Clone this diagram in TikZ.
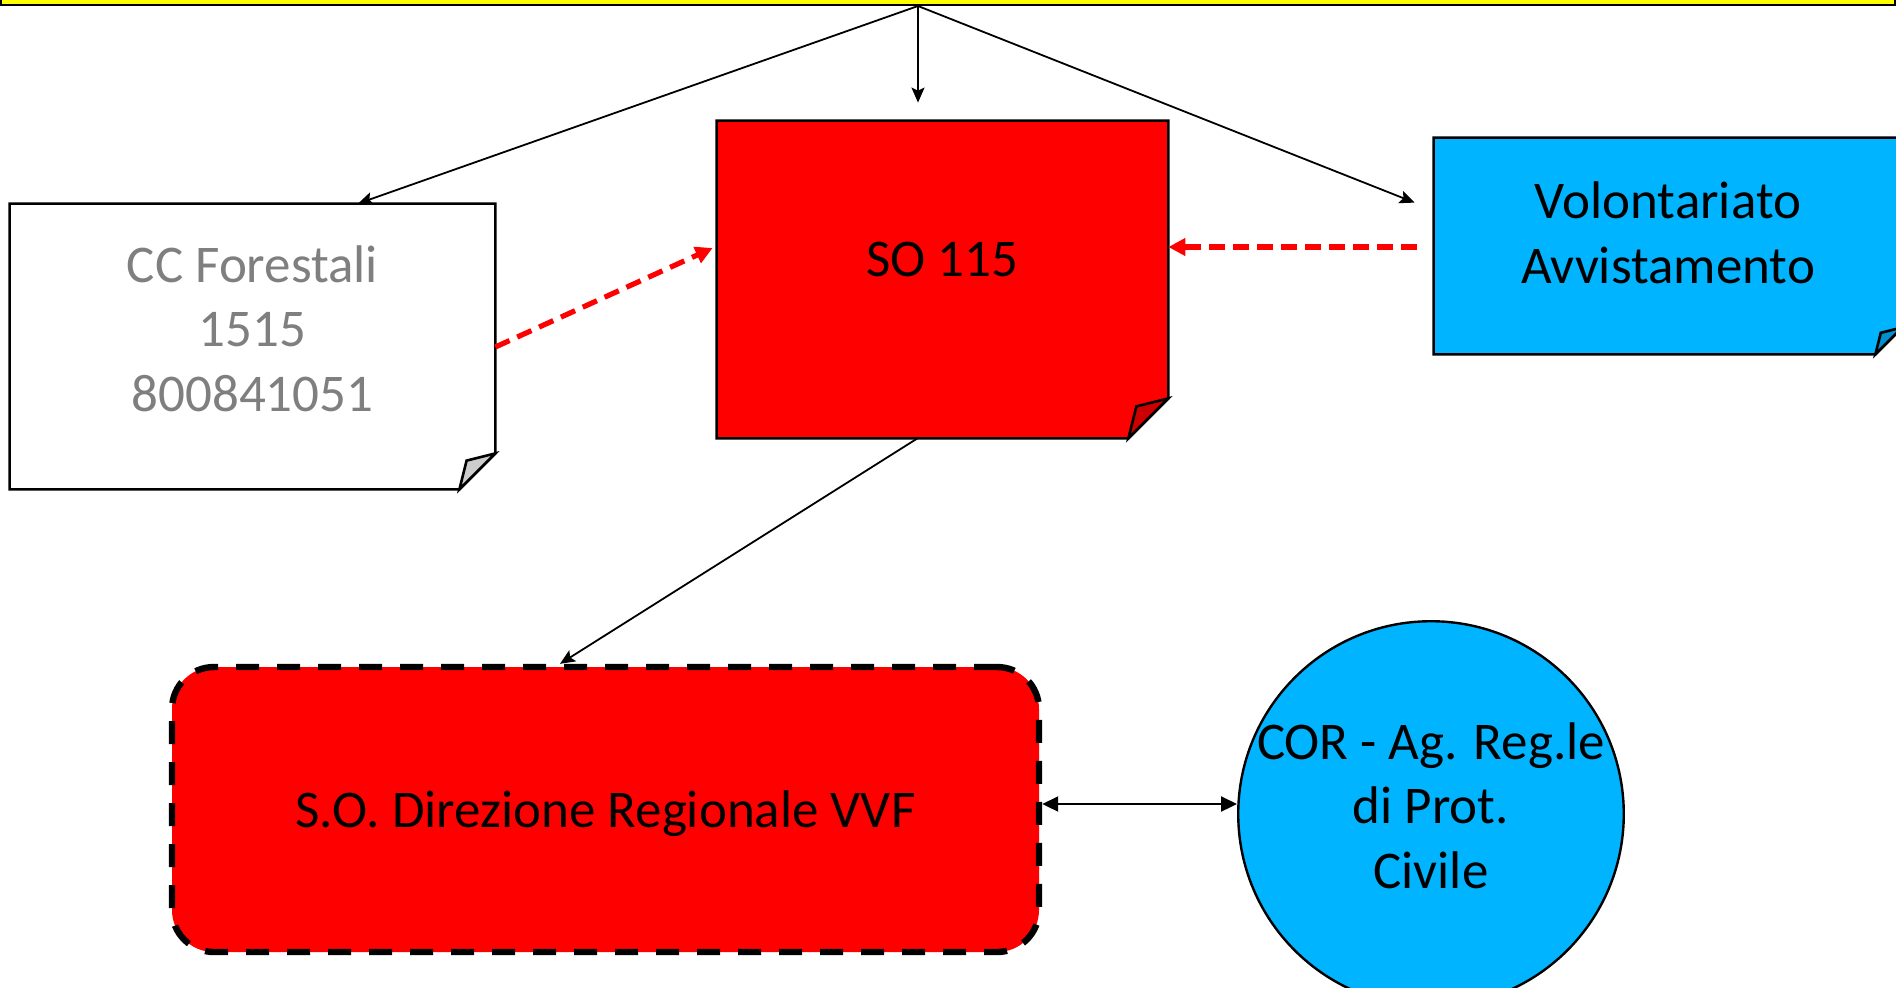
\documentclass[tikz,border=0pt]{standalone}
\usepackage{fontspec}
\setmainfont{Carlito}
\usetikzlibrary{arrows.meta,calc,backgrounds}

\definecolor{vvfred}{RGB}{255,0,0}
\definecolor{vvfredflap}{RGB}{204,0,0}
\definecolor{volblue}{RGB}{0,180,255}
\definecolor{volblueflap}{RGB}{0,144,204}
\definecolor{ccgray}{RGB}{127,127,127}
\definecolor{ccflap}{RGB}{204,204,204}
\definecolor{topyellow}{RGB}{255,255,0}

% note box with folded corner: node name, fold size, fill, flap fill
\newcommand{\dogear}[4]{%
  \begin{pgfonlayer}{background}
    \filldraw[fill=#3, line width=1.3pt, line join=miter]
      (#1.north west) -- (#1.north east) -- (#1.south east)
      -- ($(#1.south east)+(-#2,#2)$) -- ($(#1.south west)+(0,#2)$) -- cycle;
  \end{pgfonlayer}
  \filldraw[fill=#4, line width=1.3pt, line join=miter]
    (#1.south east) -- ($(#1.south east)+(-#2,#2)$)
    -- ($(#1.south east)+(-0.8*#2,0.2*#2)$) -- cycle;
}

\begin{document}
\begin{tikzpicture}[
  x=0.5pt, y=-0.5pt,
  every node/.style = {font=\fontsize{26.5}{32.3}\selectfont, align=center, inner sep=0pt},
  notebox/.style = {rectangle, draw=none},
  link/.style = {-{Stealth[length=7.5pt,width=6.5pt,inset=1.5pt]}, line width=0.9pt},
  alarm/.style = {-{Triangle[length=8.5pt,width=8.5pt]}, line width=2.6pt, vvfred,
                  dash pattern=on 7.8pt off 4.2pt},
  biway/.style = {{Triangle[length=8pt,width=7.5pt]}-{Triangle[length=8pt,width=7.5pt]}, line width=1pt}
]
  \useasboundingbox (0,0) rectangle (1896,987);
  \clip (0,0) rectangle (1896,987);

  % top box (only its lower edge shows)
  \filldraw[fill=topyellow, line width=1.2pt] (1,-20) rectangle (1895,5);
  \coordinate (apex) at (918,6);

  % note boxes
  \node[notebox, minimum width=242.5pt, minimum height=124.5pt, text=ccgray]
    (cc) at (252.5,328.5) {CC Forestali\\1515\\800841051};
  \dogear{cc}{36}{white}{ccflap}

  \node[notebox, minimum width=225.5pt, minimum height=138.5pt]
    (so) at (942.5,259.5) {SO 115};
  \dogear{so}{40}{vvfred}{vvfredflap}

  \node[notebox, minimum width=234pt, minimum height=94.5pt]
    (vol) at (1668,232.5) {Volontariato\\Avvistamento};
  \dogear{vol}{27}{volblue}{volblueflap}

  % regional room and civil protection
  \node[rectangle, rounded corners=21pt, fill=vvfred, draw, line width=3.2pt,
        dash pattern=on 11.5pt off 9pt, minimum width=433.5pt, minimum height=142.5pt,
        text depth=0pt]
    (dir) at (605.5,809.5) {S.O. Direzione Regionale VVF};
  \node[circle, fill=volblue, draw, line width=1.2pt, minimum size=192pt,
        text height=78.7pt, text depth=4.5pt]
    (cor) at (1431,814) {COR - Ag. Reg.le\\di Prot.\\Civile};

  % connectors
  \draw[link] (apex) -- ([xshift=52.75pt]cc.north);
  \draw[link, shorten >=9pt] (apex) -- (apex |- so.north);
  \draw[link] (apex) -- ([xshift=-9.5pt,yshift=-32.5pt]vol.north west);
  \draw[alarm] ([yshift=-9.25pt]cc.east) -- ([xshift=-2pt,yshift=5.75pt]so.west);
  \draw[alarm] ([xshift=-8.5pt,yshift=-7.25pt]vol.west) -- ([yshift=6.25pt]so.east);
  \coordinate (sofoot) at (918,438);
  \draw[link] (sofoot) -- ([xshift=-22.75pt]dir.north);
  \coordinate (dirport) at ([yshift=2.75pt]dir.east);
  \draw[biway] (dirport) -- (dirport -| cor.west);
\end{tikzpicture}
\end{document}
